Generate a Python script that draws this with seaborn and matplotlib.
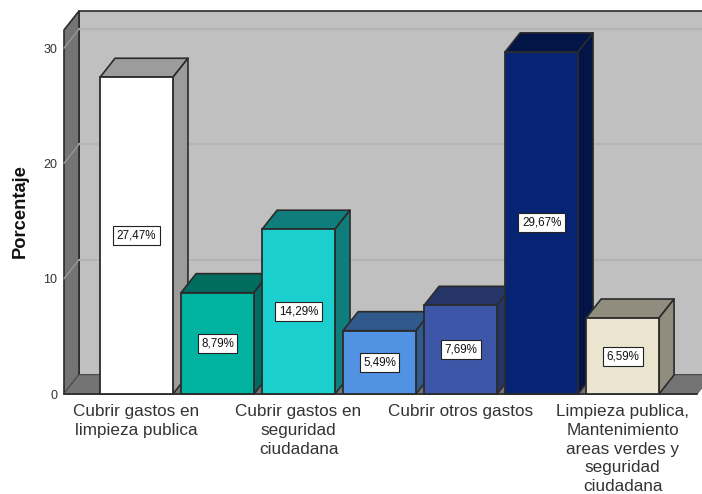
import numpy as np
import matplotlib
matplotlib.use("Agg")
import matplotlib.pyplot as plt
from matplotlib.patches import Polygon
import seaborn as sns

# Values
positions = [0, 1, 2, 3, 4, 5, 6]
values = [27.47, 8.79, 14.29, 5.49, 7.69, 29.67, 6.59]
value_labels = ["27,47%", "8,79%", "14,29%", "5,49%", "7,69%", "29,67%", "6,59%"]
front_colors = ["#ffffff", "#00b3a0", "#1acfce", "#5192e3", "#3e56a8", "#062473", "#ebe5d0"]
top_colors = ["#9c9c9c", "#006b5f", "#0f7d7c", "#315a8c", "#253567", "#021546", "#918d7e"]
label_positions = [0, 2, 4, 6]
x_labels = [
    "Cubrir gastos en\nlimpieza publica",
    "Cubrir gastos en\nseguridad\nciudadana",
    "Cubrir otros gastos",
    "Limpieza publica,\nMantenimiento\nareas verdes y\nseguridad\nciudadana",
]
y_ticks = [0, 10, 20, 30]

# 3D look: how far the back wall sits from the front plane, in data units
DX = 15 / 81
DY = 19 / 11.53
WALL_TOP = 31.57
X_MIN = -0.895
X_MAX = 6.98
FLOOR_END = 6.92
EDGE = "#2b2b2b"

sns.set_theme(style="white")
plt.rcParams["font.family"] = ["Liberation Sans", "DejaVu Sans"]

fig = plt.figure(figsize=(7.02, 4.94), dpi=100, facecolor="white")
ax = fig.add_axes([64 / 702, 100 / 494, 638 / 702, 394 / 494])
ax.patch.set_visible(False)

sns.barplot(
    x=positions,
    y=values,
    hue=positions,
    palette=front_colors,
    dodge=False,
    width=0.9,
    saturation=1,
    legend=False,
    edgecolor=EDGE,
    linewidth=1.3,
    ax=ax,
)
bars = sorted(ax.patches, key=lambda b: b.get_x())


def add_poly(points, color, z, edge=EDGE, lw=1.2):
    ax.add_patch(Polygon(points, closed=True, facecolor=color, edgecolor=edge,
                         linewidth=lw, zorder=z, clip_on=False, joinstyle="round"))


# Walls and floor
add_poly([(X_MIN + DX, DY), (X_MAX + 1, DY), (X_MAX + 1, WALL_TOP + DY), (X_MIN + DX, WALL_TOP + DY)],
         "#c0c0c0", 1)
add_poly([(X_MIN, 0), (X_MIN + DX, DY), (X_MIN + DX, WALL_TOP + DY), (X_MIN, WALL_TOP)], "#747474", 1)
add_poly([(X_MIN, 0), (FLOOR_END, 0), (FLOOR_END + DX, DY), (X_MIN + DX, DY)], "#747474", 1.5,
         edge="#5a5a5a", lw=0.6)

# Gridlines run along the back wall and down the left wall
for t in y_ticks[1:]:
    ax.plot([X_MIN + DX, X_MAX + 1], [t + DY, t + DY], color="#b4b4b4", lw=1.5, zorder=1.2, clip_on=False)
    ax.plot([X_MIN, X_MIN + DX], [t, t + DY], color="#959595", lw=1.1, zorder=1.2, clip_on=False)

# Give each bar its top and side, later bars sit in front of earlier ones
for i, bar in enumerate(bars):
    x0 = bar.get_x()
    x1 = x0 + bar.get_width()
    h = bar.get_height()
    z = 3 + i
    add_poly([(x0, h), (x1, h), (x1 + DX, h + DY), (x0 + DX, h + DY)], top_colors[i], z)
    add_poly([(x1, 0), (x1 + DX, DY), (x1 + DX, h + DY), (x1, h)], top_colors[i], z)
    bar.set_zorder(z + 0.5)
    bar.set_clip_on(False)
    ax.text(
        (x0 + x1) / 2, h / 2, value_labels[i],
        ha="center", va="center", fontsize=8.4, color="#111111", zorder=20,
        bbox=dict(boxstyle="square,pad=0.3", fc="white", ec="#222222", lw=0.8),
    )

ax.plot([X_MIN, FLOOR_END], [0, 0], color="#333333", lw=1.4, zorder=2, clip_on=False)

ax.set_xlim(X_MIN, X_MAX)
ax.set_ylim(0, 34.17)
ax.set_xticks(label_positions)
ax.set_xticklabels(x_labels, fontsize=12.3, color="#333333", linespacing=1.3)
ax.set_yticks(y_ticks)
ax.set_yticklabels([str(t) for t in y_ticks], fontsize=9, color="#333333")
ax.tick_params(axis="both", length=0)
ax.tick_params(axis="x", pad=7.5)
ax.tick_params(axis="y", pad=5)
for side in ax.spines.values():
    side.set_visible(False)

ax.set_xlabel("")
ax.set_ylabel("")
fig.text(20 / 702, 1 - 211 / 494, "Porcentaje", rotation=90, ha="center", va="center",
         fontsize=13.2, fontweight="bold", color="#111111")

fig.savefig("out.png", dpi=100)
